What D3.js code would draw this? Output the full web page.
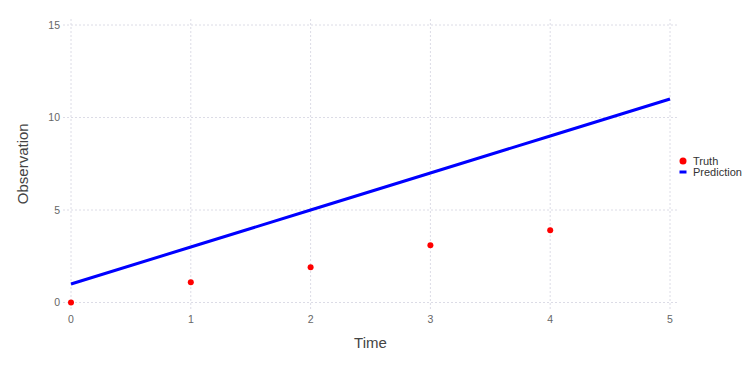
<!DOCTYPE html>
<html>
<head>
<meta charset="utf-8">
<script src="https://cdn.jsdelivr.net/npm/d3@7"></script>
<style>
  body { margin: 0; background: #fff; }
  svg { font-family: "Liberation Sans", Arial, sans-serif; }
</style>
</head>
<body>
<div id="chart"></div>
<script>
const width = 756;
const height = 378;

// data
const truthTime = [0, 1, 2, 3, 4];
const truthObs = [0, 1.1, 1.9, 3.1, 3.9];
const predTime = [0, 1, 2, 3, 4, 5];
const predObs = [1, 3, 5, 7, 9, 11];
const xTicks = [0, 1, 2, 3, 4, 5];
const yTicks = [0, 5, 10, 15];

const xScale = d3.scaleLinear().domain([0, 5]).range([71, 670]);
const yScale = d3.scaleLinear().domain([0, 15]).range([302.5, 25]);

const svg = d3.select("#chart").append("svg").attr("width", width).attr("height", height);

// grid
svg.selectAll("line.vgrid")
    .data(xTicks)
    .join("line")
    .attr("class", "vgrid")
    .attr("x1", d => xScale(d)).attr("x2", d => xScale(d))
    .attr("y1", 19).attr("y2", 311)
    .style("stroke", "#dcdce6")
    .style("stroke-dasharray", "2,2");

svg.selectAll("line.hgrid")
    .data(yTicks)
    .join("line")
    .attr("class", "hgrid")
    .attr("x1", 63).attr("x2", 678)
    .attr("y1", d => yScale(d)).attr("y2", d => yScale(d))
    .style("stroke", "#dcdce6")
    .style("stroke-dasharray", "2,2");

// tick labels
svg.selectAll("text.xtick")
    .data(xTicks)
    .join("text")
    .attr("class", "xtick")
    .attr("x", d => xScale(d))
    .attr("y", 323)
    .attr("text-anchor", "middle")
    .style("font-size", "10.5px")
    .style("fill", "#666")
    .text(d => d);

svg.selectAll("text.ytick")
    .data(yTicks)
    .join("text")
    .attr("class", "ytick")
    .attr("x", 60)
    .attr("y", d => yScale(d))
    .attr("dy", "0.35em")
    .attr("text-anchor", "end")
    .style("font-size", "10.5px")
    .style("fill", "#666")
    .text(d => d);

// axis titles
svg.append("text")
    .attr("x", xScale(2.5))
    .attr("y", 348)
    .attr("text-anchor", "middle")
    .style("font-size", "15px")
    .style("fill", "#444")
    .text("Time");

svg.append("text")
    .attr("transform", `translate(28,${yScale(7.5)}) rotate(-90)`)
    .attr("text-anchor", "middle")
    .style("font-size", "15px")
    .style("fill", "#444")
    .text("Observation");

// prediction line
const line = d3.line()
    .x((d, i) => xScale(predTime[i]))
    .y(d => yScale(d));

svg.append("path")
    .datum(predObs)
    .attr("fill", "none")
    .attr("stroke", "#0000ff")
    .attr("stroke-width", 3)
    .attr("d", line);

// truth points
svg.selectAll("circle.truth")
    .data(truthObs)
    .join("circle")
    .attr("class", "truth")
    .attr("cx", (d, i) => xScale(truthTime[i]))
    .attr("cy", d => yScale(d))
    .attr("r", 3)
    .attr("fill", "#ff0000");

// legend
const legend = svg.append("g").attr("transform", "translate(683,161)");
legend.append("circle").attr("cx", 0).attr("cy", 0).attr("r", 3.5).attr("fill", "#ff0000");
legend.append("text").attr("x", 10).attr("y", 0).attr("dy", "0.35em")
    .style("font-size", "11px").style("fill", "#333").text("Truth");
legend.append("line").attr("x1", -3.5).attr("x2", 3.5).attr("y1", 11).attr("y2", 11)
    .attr("stroke", "#0000ff").attr("stroke-width", 3);
legend.append("text").attr("x", 10).attr("y", 11).attr("dy", "0.35em")
    .style("font-size", "11px").style("fill", "#333").text("Prediction");
</script>
</body>
</html>
